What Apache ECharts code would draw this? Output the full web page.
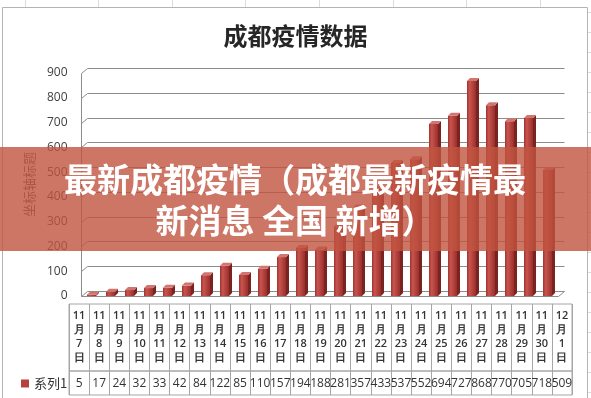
<!DOCTYPE html>
<html>
<head>
<meta charset="utf-8">
<script src="https://cdn.jsdelivr.net/npm/echarts@6/dist/echarts.min.js"></script>
<style>
html, body { margin: 0; padding: 0; background: #fff; }
#main { width: 591px; height: 398px; }
</style>
</head>
<body>
<div id="main"></div>
<script>
// 日期（类目）
var dates = ['11月7日', '11月8日', '11月9日', '11月10日', '11月11日', '11月12日', '11月13日',
  '11月14日', '11月15日', '11月16日', '11月17日', '11月18日', '11月19日', '11月20日',
  '11月21日', '11月22日', '11月23日', '11月24日', '11月25日', '11月26日', '11月27日',
  '11月28日', '11月29日', '11月30日', '12月1日'];
// 系列1 数值
var cases = [5, 17, 24, 32, 33, 42, 84, 122, 85, 110, 157, 194, 188, 281, 357, 433, 537, 552,
  694, 727, 868, 770, 705, 718, 509];
// 纵轴刻度
var yTicks = [0, 100, 200, 300, 400, 500, 600, 700, 800, 900];

var myChart = echarts.init(document.getElementById('main'));

var gridColor = '#8c8c8c';
var tableColor = '#a6a6a6';

// 背景墙 + 侧墙 + 底面（简单的伪3D）
function renderWall(params, api) {
  var cs = params.coordSys;
  var v = api.value(1);
  var y = Math.round(api.coord([0, v])[1]) + 0.5;
  var xL = Math.round(cs.x - 2.5) + 0.5;
  var xR = Math.round(cs.x + cs.width) + 0.5;
  var dx = 6, dy = 5;
  var line = { stroke: gridColor, fill: null, lineWidth: 1 };
  var kids = [{
    type: 'polyline',
    shape: { points: [[xL, y], [xL + dx, y - dy], [xR + dx, y - dy]] },
    style: line
  }];
  if (v === 0) {
    var yTop = Math.round(api.coord([0, yTicks[yTicks.length - 1]])[1]) + 0.5;
    kids.push({
      type: 'polyline',
      shape: { points: [[xL, yTop], [xL, y], [xR, y], [xR + dx, y - dy]] },
      style: line
    });
  }
  return { type: 'group', children: kids };
}

var barFront = new echarts.graphic.LinearGradient(0, 0, 1, 0, [
  { offset: 0, color: '#a3322f' },
  { offset: 0.3, color: '#c7554f' },
  { offset: 1, color: '#9b2e2b' }
]);

function renderBar(params, api) {
  var i = api.value(0), v = api.value(1);
  var top = api.coord([i, v]), base = api.coord([i, 0]);
  var w = 9, d = 3;
  var x0 = Math.round(top[0] - w / 2 - 1), x1 = x0 + w;
  var yT = top[1], yB = base[1];
  return {
    type: 'group',
    children: [
      { type: 'polygon', shape: { points: [[x1, yB], [x1 + d, yB - d], [x1 + d, yT - d], [x1, yT]] },
        style: { fill: '#7a2422' } },
      { type: 'rect', shape: { x: x0, y: yT, width: w, height: yB - yT }, style: { fill: barFront } },
      { type: 'polygon', shape: { points: [[x0, yT], [x0 + d, yT - d], [x1 + d, yT - d], [x1, yT]] },
        style: { fill: '#d27570' } }
    ]
  };
}

function dateLabel(s) {
  var m = s.match(/(\d+)月(\d+)日/);
  return m[1] + '\n月\n' + m[2] + '\n日';
}

// 表格外的表格线（Excel 背景）
var sheetLines = [];
[25, 98, 172, 245, 319, 393, 466, 540].forEach(function (x) {
  sheetLines.push({ type: 'line', shape: { x1: x + 0.5, y1: 0, x2: x + 0.5, y2: 7 },
    style: { stroke: '#dcdcdc', lineWidth: 1 }, z: 1 });
});
[12, 32, 52, 72, 92, 112, 132, 152, 172, 192, 212, 232, 252, 272, 292, 312, 332, 352, 372, 392].forEach(function (y) {
  sheetLines.push({ type: 'line', shape: { x1: 588, y1: y + 0.5, x2: 591, y2: y + 0.5 },
    style: { stroke: '#dcdcdc', lineWidth: 1 }, z: 1 });
});

var option = {
  animation: false,
  backgroundColor: '#fff',
  title: {
    text: '成都疫情数据',
    left: 'center',
    top: 19,
    textStyle: { fontFamily: 'Noto Sans CJK SC', fontSize: 24, fontWeight: 'bold', color: '#262626' }
  },
  legend: {
    data: ['系列1'],
    left: 16,
    top: 372,
    icon: 'rect',
    itemWidth: 8,
    itemHeight: 8,
    itemGap: 4,
    textStyle: { fontFamily: 'Noto Sans CJK SC', fontSize: 13, color: '#333' }
  },
  grid: [
    { left: 83.5, right: 33.5, top: 73, height: 223 },
    { left: 69, right: 19, top: 304, height: 67, show: true, borderColor: tableColor, borderWidth: 1 },
    { left: 69, right: 19, top: 371, height: 24, show: true, borderColor: tableColor, borderWidth: 1 }
  ],
  xAxis: [
    { type: 'category', gridIndex: 0, data: dates, show: false },
    {
      type: 'category', gridIndex: 1, data: dates, position: 'top',
      axisLine: { show: false }, axisTick: { show: false },
      splitLine: { show: true, interval: 0, lineStyle: { color: tableColor } },
      axisLabel: {
        inside: true, interval: 0, margin: 5, formatter: dateLabel,
        fontFamily: 'Open Sans', fontSize: 11, fontWeight: 600, lineHeight: 14, color: '#333'
      }
    },
    {
      type: 'category', gridIndex: 2, data: cases, position: 'bottom',
      axisLine: { show: false }, axisTick: { show: false },
      splitLine: { show: true, interval: 0, lineStyle: { color: tableColor } },
      axisLabel: {
        inside: true, interval: 0, margin: 5,
        fontFamily: 'Open Sans', fontSize: 12, color: '#333'
      }
    }
  ],
  yAxis: [
    {
      type: 'value', gridIndex: 0, min: 0, max: 900, interval: 100,
      axisLine: { show: false }, axisTick: { show: false }, splitLine: { show: false },
      axisLabel: { margin: 16, fontFamily: 'Open Sans', fontSize: 12, color: '#404040' },
      name: '坐标轴标题', nameLocation: 'middle', nameGap: 43,
      nameTextStyle: { fontFamily: 'Noto Sans CJK SC', fontSize: 13, color: '#595959' }
    },
    { type: 'value', gridIndex: 1, show: false },
    { type: 'value', gridIndex: 2, show: false }
  ],
  series: [
    {
      name: 'wall', type: 'custom', xAxisIndex: 0, yAxisIndex: 0,
      data: yTicks.map(function (v) { return [0, v]; }),
      renderItem: renderWall, silent: true, z: 1
    },
    {
      name: '系列1', type: 'custom', xAxisIndex: 0, yAxisIndex: 0,
      itemStyle: { color: '#b8413d' },
      data: cases.map(function (v, i) { return [i, v]; }),
      encode: { x: 0, y: 1 },
      renderItem: renderBar, z: 2
    }
  ],
  graphic: sheetLines.concat([
    {
      type: 'rect', z: 2,
      shape: { x: 2.5, y: 7.5, width: 585, height: 400 },
      style: { fill: null, stroke: '#b4b4b4', lineWidth: 1 }
    },
    {
      type: 'rect', z: 100,
      shape: { x: 0, y: 147, width: 591, height: 104 },
      style: { fill: 'rgba(192, 84, 64, 0.8)' }
    },
    {
      type: 'text', z: 101, x: 295, y: 179,
      style: {
        text: '最新成都疫情（成都最新疫情最',
        fontFamily: 'Noto Sans CJK SC', fontSize: 33, fontWeight: 'bold',
        fill: '#fff', align: 'center', verticalAlign: 'middle',
        shadowColor: 'rgba(255, 165, 150, 0.9)', shadowOffsetX: -6, shadowOffsetY: 3, shadowBlur: 0
      }
    },
    {
      type: 'text', z: 101, x: 295, y: 220,
      style: {
        text: '新消息 全国 新增）',
        fontFamily: 'Noto Sans CJK SC', fontSize: 33, fontWeight: 'bold',
        fill: '#fff', align: 'center', verticalAlign: 'middle',
        shadowColor: 'rgba(255, 165, 150, 0.9)', shadowOffsetX: -6, shadowOffsetY: 3, shadowBlur: 0
      }
    }
  ])
};

myChart.setOption(option);
window.onresize = myChart.resize;
</script>
</body>
</html>
